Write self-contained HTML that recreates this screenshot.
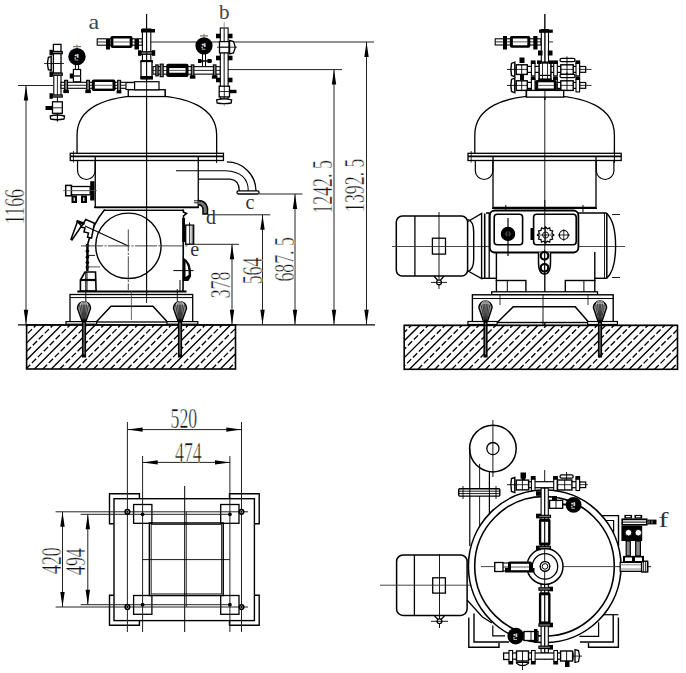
<!DOCTYPE html><html><head><meta charset="utf-8"><style>html,body{margin:0;padding:0;background:#fff;}svg{display:block;}</style></head><body><svg width="686" height="673" viewBox="0 0 686 673" shape-rendering="geometricPrecision"><rect width="686" height="673" fill="#fff"/><clipPath id="clip0"><rect x="26.6" y="325" width="208.9" height="44"/></clipPath>
<g clip-path="url(#clip0)" stroke="#000" stroke-width="1.35"><line x1="-16.3" y1="369" x2="27.7" y2="325"/><line x1="-7.85" y1="369" x2="36.15" y2="325" stroke-dasharray="6 2.4"/><line x1="0.6" y1="369" x2="44.6" y2="325"/><line x1="9.05" y1="369" x2="53.05" y2="325" stroke-dasharray="6 2.4"/><line x1="17.5" y1="369" x2="61.5" y2="325"/><line x1="25.95" y1="369" x2="69.95" y2="325" stroke-dasharray="6 2.4"/><line x1="34.4" y1="369" x2="78.4" y2="325"/><line x1="42.85" y1="369" x2="86.85" y2="325" stroke-dasharray="6 2.4"/><line x1="51.3" y1="369" x2="95.3" y2="325"/><line x1="59.75" y1="369" x2="103.75" y2="325" stroke-dasharray="6 2.4"/><line x1="68.2" y1="369" x2="112.2" y2="325"/><line x1="76.65" y1="369" x2="120.65" y2="325" stroke-dasharray="6 2.4"/><line x1="85.1" y1="369" x2="129.1" y2="325"/><line x1="93.55" y1="369" x2="137.55" y2="325" stroke-dasharray="6 2.4"/><line x1="102" y1="369" x2="146" y2="325"/><line x1="110.45" y1="369" x2="154.45" y2="325" stroke-dasharray="6 2.4"/><line x1="118.9" y1="369" x2="162.9" y2="325"/><line x1="127.35" y1="369" x2="171.35" y2="325" stroke-dasharray="6 2.4"/><line x1="135.8" y1="369" x2="179.8" y2="325"/><line x1="144.25" y1="369" x2="188.25" y2="325" stroke-dasharray="6 2.4"/><line x1="152.7" y1="369" x2="196.7" y2="325"/><line x1="161.15" y1="369" x2="205.15" y2="325" stroke-dasharray="6 2.4"/><line x1="169.6" y1="369" x2="213.6" y2="325"/><line x1="178.05" y1="369" x2="222.05" y2="325" stroke-dasharray="6 2.4"/><line x1="186.5" y1="369" x2="230.5" y2="325"/><line x1="194.95" y1="369" x2="238.95" y2="325" stroke-dasharray="6 2.4"/><line x1="203.4" y1="369" x2="247.4" y2="325"/><line x1="211.85" y1="369" x2="255.85" y2="325" stroke-dasharray="6 2.4"/><line x1="220.3" y1="369" x2="264.3" y2="325"/><line x1="228.75" y1="369" x2="272.75" y2="325" stroke-dasharray="6 2.4"/></g>
<rect x="26.6" y="325" width="208.9" height="44" stroke="#000" stroke-width="1.6" fill="none" />
<clipPath id="clip3"><rect x="404.2" y="325.4" width="273.3" height="43.9"/></clipPath>
<g clip-path="url(#clip3)" stroke="#000" stroke-width="1.35"><line x1="358.8" y1="369.3" x2="402.7" y2="325.4"/><line x1="367.25" y1="369.3" x2="411.15" y2="325.4" stroke-dasharray="6 2.4"/><line x1="375.7" y1="369.3" x2="419.6" y2="325.4"/><line x1="384.15" y1="369.3" x2="428.05" y2="325.4" stroke-dasharray="6 2.4"/><line x1="392.6" y1="369.3" x2="436.5" y2="325.4"/><line x1="401.05" y1="369.3" x2="444.95" y2="325.4" stroke-dasharray="6 2.4"/><line x1="409.5" y1="369.3" x2="453.4" y2="325.4"/><line x1="417.95" y1="369.3" x2="461.85" y2="325.4" stroke-dasharray="6 2.4"/><line x1="426.4" y1="369.3" x2="470.3" y2="325.4"/><line x1="434.85" y1="369.3" x2="478.75" y2="325.4" stroke-dasharray="6 2.4"/><line x1="443.3" y1="369.3" x2="487.2" y2="325.4"/><line x1="451.75" y1="369.3" x2="495.65" y2="325.4" stroke-dasharray="6 2.4"/><line x1="460.2" y1="369.3" x2="504.1" y2="325.4"/><line x1="468.65" y1="369.3" x2="512.55" y2="325.4" stroke-dasharray="6 2.4"/><line x1="477.1" y1="369.3" x2="521" y2="325.4"/><line x1="485.55" y1="369.3" x2="529.45" y2="325.4" stroke-dasharray="6 2.4"/><line x1="494" y1="369.3" x2="537.9" y2="325.4"/><line x1="502.45" y1="369.3" x2="546.35" y2="325.4" stroke-dasharray="6 2.4"/><line x1="510.9" y1="369.3" x2="554.8" y2="325.4"/><line x1="519.35" y1="369.3" x2="563.25" y2="325.4" stroke-dasharray="6 2.4"/><line x1="527.8" y1="369.3" x2="571.7" y2="325.4"/><line x1="536.25" y1="369.3" x2="580.15" y2="325.4" stroke-dasharray="6 2.4"/><line x1="544.7" y1="369.3" x2="588.6" y2="325.4"/><line x1="553.15" y1="369.3" x2="597.05" y2="325.4" stroke-dasharray="6 2.4"/><line x1="561.6" y1="369.3" x2="605.5" y2="325.4"/><line x1="570.05" y1="369.3" x2="613.95" y2="325.4" stroke-dasharray="6 2.4"/><line x1="578.5" y1="369.3" x2="622.4" y2="325.4"/><line x1="586.95" y1="369.3" x2="630.85" y2="325.4" stroke-dasharray="6 2.4"/><line x1="595.4" y1="369.3" x2="639.3" y2="325.4"/><line x1="603.85" y1="369.3" x2="647.75" y2="325.4" stroke-dasharray="6 2.4"/><line x1="612.3" y1="369.3" x2="656.2" y2="325.4"/><line x1="620.75" y1="369.3" x2="664.65" y2="325.4" stroke-dasharray="6 2.4"/><line x1="629.2" y1="369.3" x2="673.1" y2="325.4"/><line x1="637.65" y1="369.3" x2="681.55" y2="325.4" stroke-dasharray="6 2.4"/><line x1="646.1" y1="369.3" x2="690" y2="325.4"/><line x1="654.55" y1="369.3" x2="698.45" y2="325.4" stroke-dasharray="6 2.4"/><line x1="663" y1="369.3" x2="706.9" y2="325.4"/><line x1="671.45" y1="369.3" x2="715.35" y2="325.4" stroke-dasharray="6 2.4"/></g>
<rect x="404.2" y="325.4" width="273.3" height="43.9" stroke="#000" stroke-width="1.6" fill="none" />
<line x1="18" y1="324.8" x2="375" y2="324.8" stroke="#000" stroke-width="1.3" />
<path d="M77.05,153.3 L77.05,135 C77.05,108 105.25,95.6 146.85,95.6 C188.45,95.6 216.65,108 216.65,135 L216.65,153.3" stroke="#000" stroke-width="1.3" fill="none" />
<rect x="70.25" y="153.3" width="153.2" height="7.2" stroke="#000" stroke-width="1.3" fill="#fff" />
<line x1="70.25" y1="156.4" x2="223.45" y2="156.4" stroke="#000" stroke-width="1.6" />
<line x1="73.45" y1="151" x2="73.45" y2="162.5" stroke="#000" stroke-width="0.8" />
<line x1="216.65" y1="151" x2="216.65" y2="163" stroke="#000" stroke-width="1.0" />
<path d="M77.55,160.5 L77.55,170.7 A8.8,8.8 0 0 0 95.15,170.7 L95.15,160.5" stroke="#000" stroke-width="1.2" fill="none" />
<path d="M95.25,156.4 L95.25,207.5 L198.25,207.5 L198.25,156.4" stroke="#000" stroke-width="1.3" fill="none" />
<rect x="128.45" y="89.8" width="36.8" height="6.7" stroke="#000" stroke-width="1.2" fill="#fff" />
<line x1="146.6" y1="14" x2="146.6" y2="302" stroke="#000" stroke-width="0.9" />
<rect x="53.8" y="74" width="7.2" height="22" stroke="#000" stroke-width="1.1" fill="#fff" />
<line x1="57.4" y1="74" x2="57.4" y2="96" stroke="#111" stroke-width="0.9" />
<rect x="53.4" y="44.4" width="7.6" height="7.1" stroke="#000" stroke-width="1.3" fill="#fff" />
<rect x="52.3" y="51.5" width="10" height="2.2" stroke="#000" stroke-width="1.1" fill="#777" />
<rect x="49.5" y="49.8" width="3.3" height="5.6" fill="#000"/>
<rect x="53.4" y="53.7" width="7.6" height="19.5" stroke="#000" stroke-width="1.3" fill="#fff" />
<line x1="53.4" y1="63.5" x2="61" y2="63.5" stroke="#000" stroke-width="0.8" />
<path d="M51.2,56.6 L48.4,57.4 L47.6,62 L47.6,65 L48.4,69.6 L51.2,70.4 Z" stroke="#000" stroke-width="1.4" fill="#fff" />
<line x1="44" y1="63.5" x2="64" y2="63.5" stroke="#000" stroke-width="0.8" />
<rect x="52.3" y="73.1" width="10" height="2.2" stroke="#000" stroke-width="1.1" fill="#777" />
<rect x="49.5" y="71.4" width="3.3" height="5.6" fill="#000"/>
<rect x="52.3" y="94.9" width="10" height="2.2" stroke="#000" stroke-width="1.1" fill="#777" />
<rect x="49.5" y="93.2" width="3.3" height="5.6" fill="#000"/>
<rect x="52.5" y="101.8" width="9.8" height="11.5" stroke="#000" stroke-width="1.3" fill="#fff" />
<line x1="52.5" y1="107.8" x2="62.3" y2="107.8" stroke="#000" stroke-width="0.8" />
<rect x="45.5" y="106" width="7" height="4" fill="#000"/>
<line x1="57.4" y1="97" x2="57.4" y2="102" stroke="#000" stroke-width="1" />
<path d="M50.2,116 Q57.4,114 64.5,116 L64,119 Q57.4,120.5 50.6,119 Z" stroke="#000" stroke-width="1.3" fill="#fff" />
<line x1="57.4" y1="113" x2="57.4" y2="121.5" stroke="#000" stroke-width="1.1" />
<circle cx="77" cy="56.6" r="8.7" stroke="#000" stroke-width="0" fill="#000" />
<rect x="74.8" y="54.6" width="2" height="1.6" fill="#eee"/>
<rect x="76.8" y="54" width="1.8" height="3.8" fill="#ccc"/>
<rect x="74.4" y="57.4" width="1.6" height="1.8" fill="#9ad"/>
<rect x="74.8" y="59.6" width="3.6" height="0.8" fill="#ddd"/>
<line x1="73" y1="46.6" x2="81" y2="46.6" stroke="#8a6a50" stroke-width="1.2" />
<line x1="77" y1="44.4" x2="77" y2="47.9" stroke="#777" stroke-width="1" />
<line x1="75.4" y1="65" x2="75.4" y2="70" stroke="#000" stroke-width="1" />
<line x1="78.6" y1="65" x2="78.6" y2="70" stroke="#000" stroke-width="1" />
<rect x="73.4" y="69.5" width="7.2" height="12.3" stroke="#000" stroke-width="1.2" fill="#fff" />
<rect x="69.8" y="73.5" width="3.6" height="5" fill="#000"/>
<line x1="73.4" y1="76" x2="80.6" y2="76" stroke="#333" stroke-width="1.6" />
<rect x="61" y="82.3" width="73.6" height="6" stroke="#000" stroke-width="1.1" fill="#fff" />
<line x1="61" y1="85.3" x2="134.6" y2="85.3" stroke="#111" stroke-width="0.9" />
<rect x="64.65" y="80.3" width="2.9" height="10" stroke="#000" stroke-width="1.1" fill="#777" />
<rect x="63.3" y="89.8" width="5.6" height="3.3" fill="#000"/>
<rect x="86.65" y="80.3" width="2.9" height="10" stroke="#000" stroke-width="1.1" fill="#777" />
<rect x="85.3" y="89.8" width="5.6" height="3.3" fill="#000"/>
<rect x="91.8" y="79.6" width="23.7" height="11.4" rx="1.8" fill="#000"/>
<rect x="94.8" y="82" width="17.7" height="6.6" fill="#fff"/>
<line x1="94.8" y1="85.3" x2="112.5" y2="85.3" stroke="#333" stroke-width="0.8" />
<rect x="117.6" y="80.3" width="3" height="10.5" stroke="#000" stroke-width="1" fill="#888" />
<rect x="116.6" y="90.5" width="4.8" height="2.9" fill="#000"/>
<rect x="126" y="82.6" width="8.6" height="6.9" stroke="#000" stroke-width="1.1" fill="#fff" />
<rect x="142.4" y="29" width="8.4" height="33" stroke="#000" stroke-width="1.1" fill="#fff" />
<line x1="146.6" y1="29" x2="146.6" y2="62" stroke="#111" stroke-width="0.9" />
<rect x="141" y="29" width="14" height="3.5" fill="#000"/>
<rect x="140.8" y="51.7" width="11.6" height="2.6" stroke="#000" stroke-width="1.1" fill="#777" />
<rect x="138" y="50.2" width="3.3" height="5.6" fill="#000"/>
<rect x="151.9" y="50.2" width="3.3" height="5.6" fill="#000"/>
<rect x="140.5" y="60" width="12.3" height="3" fill="#000"/>
<rect x="141" y="61.5" width="11" height="17" stroke="#000" stroke-width="1.3" fill="#fff" />
<rect x="140.5" y="76" width="12.5" height="3.5" fill="#000"/>
<line x1="146.6" y1="61" x2="146.6" y2="80" stroke="#000" stroke-width="0.9" />
<rect x="97.2" y="38.8" width="45" height="6.4" stroke="#000" stroke-width="1.1" fill="#fff" />
<line x1="97.2" y1="42" x2="142.2" y2="42" stroke="#111" stroke-width="0.9" />
<rect x="110.4" y="36.1" width="22.2" height="11.8" rx="1.8" fill="#000"/>
<rect x="113.4" y="38.5" width="16.2" height="7" fill="#fff"/>
<line x1="113.4" y1="42" x2="129.6" y2="42" stroke="#333" stroke-width="0.8" />
<rect x="106" y="39" width="4" height="10.5" fill="#000"/>
<rect x="134.5" y="39" width="4.5" height="10.5" fill="#000"/>
<line x1="151" y1="42" x2="374" y2="42" stroke="#222" stroke-width="1.0" />
<rect x="153" y="66.65" width="67.3" height="7.5" stroke="#000" stroke-width="1.1" fill="#fff" />
<line x1="153" y1="70.4" x2="220.3" y2="70.4" stroke="#111" stroke-width="0.9" />
<rect x="166.3" y="63.7" width="22.2" height="13.4" rx="1.8" fill="#000"/>
<rect x="169.3" y="68.05" width="16.2" height="4.7" fill="#fff"/>
<line x1="169.3" y1="70.4" x2="185.5" y2="70.4" stroke="#333" stroke-width="0.8" />
<rect x="155.8" y="64.9" width="2.4" height="11" stroke="#000" stroke-width="1.1" fill="#777" />
<rect x="160.2" y="64.1" width="3" height="12.6" stroke="#000" stroke-width="1.1" fill="#777" />
<rect x="191.3" y="64.9" width="2.6" height="11" stroke="#000" stroke-width="1.1" fill="#777" />
<rect x="189.8" y="75.4" width="5.6" height="3.3" fill="#000"/>
<rect x="213.4" y="64.9" width="2.6" height="11" stroke="#000" stroke-width="1.1" fill="#777" />
<rect x="211.9" y="75.4" width="5.6" height="3.3" fill="#000"/>
<line x1="228" y1="69.6" x2="342" y2="69.6" stroke="#222" stroke-width="1.0" />
<circle cx="204" cy="45.8" r="8.6" stroke="#000" stroke-width="0" fill="#000" />
<rect x="201.8" y="43.8" width="2" height="1.6" fill="#eee"/>
<rect x="203.8" y="43.2" width="1.8" height="3.8" fill="#ccc"/>
<rect x="201.4" y="46.6" width="1.6" height="1.8" fill="#9ad"/>
<rect x="201.8" y="48.8" width="3.6" height="0.8" fill="#ddd"/>
<line x1="200" y1="35.9" x2="208" y2="35.9" stroke="#8a6a50" stroke-width="1.2" />
<line x1="204" y1="33.7" x2="204" y2="37.2" stroke="#777" stroke-width="1" />
<line x1="202.5" y1="54" x2="202.5" y2="66" stroke="#000" stroke-width="1" />
<line x1="205.5" y1="54" x2="205.5" y2="66" stroke="#000" stroke-width="1" />
<rect x="198" y="59" width="3.5" height="4" fill="#000"/>
<rect x="207.5" y="59" width="4" height="4" fill="#000"/>
<line x1="198" y1="61" x2="212" y2="61" stroke="#000" stroke-width="1.5" />
<rect x="220.3" y="28" width="7.8" height="71" stroke="#000" stroke-width="1.1" fill="#fff" />
<line x1="224.2" y1="28" x2="224.2" y2="99" stroke="#111" stroke-width="0.9" />
<line x1="224.2" y1="22" x2="224.2" y2="106" stroke="#555" stroke-width="0.6" />
<rect x="219.5" y="41.6" width="9.5" height="11.3" stroke="#000" stroke-width="1.3" fill="#fff" />
<line x1="219.5" y1="47.2" x2="229" y2="47.2" stroke="#000" stroke-width="0.8" />
<path d="M229.6,40.5 L233.5,41.5 L235,46 L235,48.5 L233.5,53 L229.6,54 Z" stroke="#000" stroke-width="1.3" fill="#fff" />
<line x1="217" y1="47.2" x2="237" y2="47.2" stroke="#000" stroke-width="0.8" />
<rect x="216" y="33.7" width="4.5" height="4.6" fill="#000"/>
<rect x="228" y="33.7" width="4.5" height="4.6" fill="#000"/>
<rect x="216" y="55.7" width="4.5" height="4.6" fill="#000"/>
<rect x="228" y="55.7" width="4.5" height="4.6" fill="#000"/>
<rect x="216" y="77.7" width="4.5" height="4.6" fill="#000"/>
<rect x="228" y="77.7" width="4.5" height="4.6" fill="#000"/>
<rect x="219.2" y="86.2" width="10.3" height="10.7" stroke="#000" stroke-width="1.3" fill="#fff" />
<line x1="219.2" y1="91.5" x2="229.5" y2="91.5" stroke="#000" stroke-width="0.8" />
<line x1="224.3" y1="86" x2="224.3" y2="97" stroke="#000" stroke-width="0.8" />
<rect x="229.5" y="89.8" width="7" height="3.4" fill="#000"/>
<path d="M216.7,99.8 Q224.2,98 231.6,99.8 L231.2,103 Q224.2,104.4 217.1,103 Z" stroke="#000" stroke-width="1.3" fill="#fff" />
<text transform="translate(88.5,29) scale(1.12,1)" font-family="Liberation Serif" font-size="21.5" fill="#444" text-anchor="start">a</text>
<text transform="translate(219,18.6)" font-family="Liberation Serif" font-size="21" fill="#444" text-anchor="start">b</text>
<rect x="128.3" y="89.8" width="36.7" height="6.7" stroke="#000" stroke-width="1.2" fill="#fff" />
<rect x="134.6" y="81.7" width="24.4" height="8.1" stroke="#000" stroke-width="1.2" fill="#fff" />
<line x1="146.6" y1="14" x2="146.6" y2="100" stroke="#000" stroke-width="0.9" />
<path d="M198.3,179.1 L230.4,179.1 Q239.3,180 239.3,191" stroke="#000" stroke-width="1.3" fill="none" />
<path d="M176,170.8 L225.7,170.8 Q248.3,172 248.3,191" stroke="#000" stroke-width="1.1" fill="none" />
<path d="M226.9,161.9 A29.1,29.1 0 0 1 256,191" stroke="#000" stroke-width="1.3" fill="none" />
<rect x="237" y="190.8" width="22" height="3.2" stroke="#000" stroke-width="1.3" fill="#fff" rx="1.5" />
<line x1="259" y1="194" x2="302.5" y2="194" stroke="#222" stroke-width="1" />
<text transform="translate(245.4,208.6)" font-family="Liberation Serif" font-size="20" fill="#333" text-anchor="start">c</text>
<path d="M198.3,200.5 Q206,200.5 207.5,208 L207.5,214 L203,214 L203,209 Q202.5,204.8 198.3,204.8" stroke="#000" stroke-width="1.5" fill="#777" />
<line x1="199.5" y1="202.6" x2="205" y2="208.5" stroke="#666" stroke-width="0.7" />
<line x1="194" y1="200.8" x2="198.3" y2="200.8" stroke="#000" stroke-width="0.9" />
<line x1="194" y1="202.8" x2="198.3" y2="202.8" stroke="#000" stroke-width="0.9" />
<line x1="207.5" y1="214.8" x2="270.3" y2="214.8" stroke="#222" stroke-width="1" />
<text transform="translate(206,224)" font-family="Liberation Serif" font-size="20" fill="#333" text-anchor="start">d</text>
<rect x="104" y="207.5" width="79.5" height="3" fill="#ccc"/>
<line x1="94" y1="207.3" x2="198.3" y2="207.3" stroke="#000" stroke-width="1.4" />
<line x1="104" y1="210.4" x2="183.5" y2="210.4" stroke="#000" stroke-width="1.3" />
<rect x="65.7" y="185.4" width="5.8" height="10.4" stroke="#000" stroke-width="1.5" fill="#fff" />
<rect x="71.5" y="186.5" width="18.7" height="8.3" stroke="#000" stroke-width="1.3" fill="#fff" />
<line x1="71.5" y1="190.6" x2="90.2" y2="190.6" stroke="#555" stroke-width="0.8" />
<rect x="90.2" y="181.2" width="4.3" height="19.3" fill="#000"/>
<rect x="71.5" y="195.5" width="5.5" height="7.5" fill="#000"/>
<rect x="81" y="195.5" width="6" height="7.5" fill="#000"/>
<rect x="73.6" y="197.5" width="1.2" height="3.5" fill="#fff"/><rect x="83.2" y="197.5" width="1.2" height="3.5" fill="#fff"/>
<line x1="63" y1="190.6" x2="97" y2="190.6" stroke="#555" stroke-width="0.7" />
<path d="M104.7,209.6 Q92,225 87.6,244.7 L87.3,271" stroke="#000" stroke-width="1.6" fill="none" />
<line x1="87.4" y1="244" x2="87.4" y2="271" stroke="#000" stroke-width="2.2" />
<ellipse cx="87.4" cy="245.5" rx="1.9" ry="1.5" fill="#000"/>
<ellipse cx="87.4" cy="251" rx="1.9" ry="1.5" fill="#000"/>
<ellipse cx="87.4" cy="257" rx="1.9" ry="1.5" fill="#000"/>
<ellipse cx="87.4" cy="262.5" rx="1.9" ry="1.5" fill="#000"/>
<ellipse cx="87.4" cy="267" rx="1.9" ry="1.5" fill="#000"/>
<path d="M77.5,221.5 L71,239.3 L72,240 L81.5,226 Z" stroke="#000" stroke-width="1.5" fill="#fff" />
<path d="M85.8,219.5 L94.5,223.2 L91.5,238 L87.5,237.2 L88.5,233 L84,232 L85,228 L81,227 Z" stroke="#000" stroke-width="1.5" fill="#fff" />
<line x1="76.5" y1="221" x2="84.5" y2="224" stroke="#000" stroke-width="2.5" />
<line x1="85" y1="226" x2="128.3" y2="246" stroke="#000" stroke-width="1.1" />
<circle cx="128.4" cy="245.8" r="32.7" stroke="#000" stroke-width="1.4" fill="none" />
<line x1="81" y1="245.9" x2="188" y2="245.9" stroke="#444" stroke-width="1.0" stroke-dasharray="22 1.5 2 1.5"/>
<line x1="128.3" y1="229.4" x2="128.3" y2="290" stroke="#333" stroke-width="0.9" stroke-dasharray="22 1.5 2 1.5"/>
<line x1="87" y1="255.4" x2="95" y2="255.4" stroke="#000" stroke-width="0.9" />
<line x1="87" y1="266.9" x2="100" y2="266.9" stroke="#444" stroke-width="0.9" />
<path d="M80.4,280 L85,272 L95.5,272 L96.1,291 L80.4,291 Z" stroke="#000" stroke-width="1.6" fill="#fff" />
<line x1="80.4" y1="280" x2="96.1" y2="280" stroke="#000" stroke-width="2.2" />
<line x1="87" y1="272" x2="87" y2="291" stroke="#000" stroke-width="0.9" />
<path d="M183.3,209.6 L183.3,212 L186.5,213.5 L183.5,216 L183,291" stroke="#000" stroke-width="1.6" fill="none" />
<rect x="185.7" y="225.1" width="8" height="19.2" stroke="#000" stroke-width="1.3" fill="#fff" />
<line x1="189.7" y1="225.1" x2="189.7" y2="244.3" stroke="#000" stroke-width="0.9" />
<line x1="192.2" y1="226" x2="192.2" y2="244.3" stroke="#000" stroke-width="0.8" />
<line x1="189.5" y1="222.5" x2="189.5" y2="225.1" stroke="#000" stroke-width="1" />
<rect x="182.2" y="218" width="2.8" height="24" fill="#000"/>
<line x1="186" y1="244.3" x2="239" y2="244.3" stroke="#222" stroke-width="1" />
<text transform="translate(190.2,255.8)" font-family="Liberation Serif" font-size="20" fill="#333" text-anchor="start">e</text>
<path d="M183.5,258.7 Q191,262 190.5,276 L188,280.3 L183.5,280.3 Z" stroke="#000" stroke-width="1.3" fill="#000" />
<path d="M185.5,262 Q189,266 188.6,275 L185.5,277 Z" fill="#fff"/>
<line x1="173.4" y1="270.6" x2="193.5" y2="270.6" stroke="#000" stroke-width="1" />
<line x1="77.3" y1="291.4" x2="186.5" y2="291.4" stroke="#000" stroke-width="2.0" />
<rect x="70" y="294.5" width="122.7" height="27.5" stroke="#000" stroke-width="1.3" fill="#fff" />
<line x1="70" y1="297.6" x2="192.7" y2="297.6" stroke="#000" stroke-width="1.0" />
<rect x="66" y="321.6" width="30.7" height="2.6" stroke="#000" stroke-width="1.2" fill="#fff" />
<rect x="167" y="321.6" width="30.8" height="2.6" stroke="#000" stroke-width="1.2" fill="#fff" />
<path d="M96.7,321.6 L111,306.3 L152.9,306.3 L167,321.6" stroke="#000" stroke-width="1.5" fill="none" />
<line x1="131.4" y1="291" x2="131.4" y2="320" stroke="#444" stroke-width="0.8" />
<line x1="146.6" y1="100" x2="146.6" y2="303" stroke="#000" stroke-width="0.9" />
<line x1="180" y1="280" x2="180" y2="292" stroke="#000" stroke-width="1" />
<line x1="85.8" y1="272" x2="85.8" y2="302" stroke="#000" stroke-width="1.0" />
<line x1="177.3" y1="289" x2="177.3" y2="302" stroke="#000" stroke-width="0.9" />
<path d="M77.4,308.2 A6.6,6.6 0 0 1 90.6,308.2 L86.2,320.5 L81.8,320.5 Z" stroke="#000" stroke-width="1.4" fill="#999" />
<line x1="79.5" y1="304.6" x2="82.65" y2="320.5" stroke="#111" stroke-width="0.7" />
<line x1="81.5" y1="304.6" x2="83.25" y2="320.5" stroke="#111" stroke-width="0.7" />
<line x1="83.2" y1="304.6" x2="83.76" y2="320.5" stroke="#111" stroke-width="0.7" />
<line x1="84.8" y1="304.6" x2="84.24" y2="320.5" stroke="#111" stroke-width="0.7" />
<line x1="86.5" y1="304.6" x2="84.75" y2="320.5" stroke="#111" stroke-width="0.7" />
<line x1="88.5" y1="304.6" x2="85.35" y2="320.5" stroke="#111" stroke-width="0.7" />
<path d="M80,305.6 A4,4 0 0 1 88,305.6" stroke="#ccc" stroke-width="0.8" fill="none" />
<rect x="81.9" y="319.5" width="4.2" height="38" fill="#000"/>
<rect x="83.4" y="322.5" width="1.2" height="32" fill="#777"/>
<path d="M173.4,308.2 A6.6,6.6 0 0 1 186.6,308.2 L182.2,320.5 L177.8,320.5 Z" stroke="#000" stroke-width="1.4" fill="#999" />
<line x1="175.5" y1="304.6" x2="178.65" y2="320.5" stroke="#111" stroke-width="0.7" />
<line x1="177.5" y1="304.6" x2="179.25" y2="320.5" stroke="#111" stroke-width="0.7" />
<line x1="179.2" y1="304.6" x2="179.76" y2="320.5" stroke="#111" stroke-width="0.7" />
<line x1="180.8" y1="304.6" x2="180.24" y2="320.5" stroke="#111" stroke-width="0.7" />
<line x1="182.5" y1="304.6" x2="180.75" y2="320.5" stroke="#111" stroke-width="0.7" />
<line x1="184.5" y1="304.6" x2="181.35" y2="320.5" stroke="#111" stroke-width="0.7" />
<path d="M176,305.6 A4,4 0 0 1 184,305.6" stroke="#ccc" stroke-width="0.8" fill="none" />
<rect x="177.9" y="319.5" width="4.2" height="38" fill="#000"/>
<rect x="179.4" y="322.5" width="1.2" height="32" fill="#777"/>
<line x1="18" y1="85.5" x2="53" y2="85.5" stroke="#222" stroke-width="1" />
<line x1="26" y1="85.5" x2="26" y2="324.8" stroke="#222" stroke-width="1.0" />
<polygon points="26,85.5 23.8,100.5 28.2,100.5" fill="#000"/>
<polygon points="26,324.8 23.8,309.8 28.2,309.8" fill="#000"/>
<text transform="translate(24,224) rotate(-90) scale(0.6,1)" font-family="Liberation Serif" font-size="29.7" fill="#111" stroke="#fff" stroke-width="0.55" text-anchor="start">1166</text>
<line x1="334" y1="69.6" x2="334" y2="324.8" stroke="#222" stroke-width="1.0" />
<polygon points="334,69.6 331.8,84.6 336.2,84.6" fill="#000"/>
<polygon points="334,324.8 331.8,309.8 336.2,309.8" fill="#000"/>
<text transform="translate(331.8,213.6) rotate(-90) scale(0.6,1)" font-family="Liberation Serif" font-size="29.7" fill="#111" stroke="#fff" stroke-width="0.55" text-anchor="start">1242. 5</text>
<line x1="366.5" y1="42" x2="366.5" y2="324.8" stroke="#222" stroke-width="1.0" />
<polygon points="366.5,42 364.3,57 368.7,57" fill="#000"/>
<polygon points="366.5,324.8 364.3,309.8 368.7,309.8" fill="#000"/>
<text transform="translate(364,212) rotate(-90) scale(0.6,1)" font-family="Liberation Serif" font-size="29.7" fill="#111" stroke="#fff" stroke-width="0.55" text-anchor="start">1392. 5</text>
<line x1="295" y1="194" x2="295" y2="324.8" stroke="#222" stroke-width="1.0" />
<polygon points="295,194 292.8,209 297.2,209" fill="#000"/>
<polygon points="295,324.8 292.8,309.8 297.2,309.8" fill="#000"/>
<text transform="translate(293.7,281.6) rotate(-90) scale(0.6,1)" font-family="Liberation Serif" font-size="29.7" fill="#111" stroke="#fff" stroke-width="0.55" text-anchor="start">687. 5</text>
<line x1="262.5" y1="214.8" x2="262.5" y2="324.8" stroke="#222" stroke-width="1.0" />
<polygon points="262.5,214.8 260.3,229.8 264.7,229.8" fill="#000"/>
<polygon points="262.5,324.8 260.3,309.8 264.7,309.8" fill="#000"/>
<text transform="translate(262.3,284.3) rotate(-90) scale(0.6,1)" font-family="Liberation Serif" font-size="29.7" fill="#111" stroke="#fff" stroke-width="0.55" text-anchor="start">564</text>
<line x1="232" y1="244.3" x2="232" y2="324.8" stroke="#222" stroke-width="1.0" />
<polygon points="232,244.3 229.8,259.3 234.2,259.3" fill="#000"/>
<polygon points="232,324.8 229.8,309.8 234.2,309.8" fill="#000"/>
<text transform="translate(229.9,298.3) rotate(-90) scale(0.6,1)" font-family="Liberation Serif" font-size="29.7" fill="#111" stroke="#fff" stroke-width="0.55" text-anchor="start">378</text>
<path d="M474.8,153.3 L474.8,135 C474.8,108 503,95.6 544.6,95.6 C586.2,95.6 614.4,108 614.4,135 L614.4,153.3" stroke="#000" stroke-width="1.3" fill="none" />
<rect x="468" y="153.3" width="153.2" height="7.2" stroke="#000" stroke-width="1.3" fill="#fff" />
<line x1="468" y1="156.4" x2="621.2" y2="156.4" stroke="#000" stroke-width="1.6" />
<line x1="471.2" y1="151" x2="471.2" y2="162.5" stroke="#000" stroke-width="0.8" />
<line x1="614.4" y1="151" x2="614.4" y2="163" stroke="#000" stroke-width="1.0" />
<path d="M475.3,160.5 L475.3,170.7 A8.8,8.8 0 0 0 492.9,170.7 L492.9,160.5" stroke="#000" stroke-width="1.2" fill="none" />
<path d="M596.3,160.5 L596.3,170.7 A8.8,8.8 0 0 0 613.9,170.7 L613.9,160.5" stroke="#000" stroke-width="1.2" fill="none" />
<path d="M493,156.4 L493,207.5 L596,207.5 L596,156.4" stroke="#000" stroke-width="1.3" fill="none" />
<rect x="526.2" y="89.8" width="36.8" height="6.7" stroke="#000" stroke-width="1.2" fill="#fff" />
<line x1="544.8" y1="14" x2="544.8" y2="325" stroke="#000" stroke-width="0.9" />
<line x1="492" y1="208.2" x2="597" y2="208.2" stroke="#000" stroke-width="1.5" />
<rect x="396.3" y="216.1" width="71.3" height="59.9" stroke="#000" stroke-width="1.5" fill="#fff" rx="6" />
<line x1="414.9" y1="216.1" x2="414.9" y2="276" stroke="#000" stroke-width="1.3" />
<line x1="439" y1="212" x2="439" y2="289" stroke="#000" stroke-width="0.9" />
<rect x="432.4" y="238.2" width="13.1" height="15.9" stroke="#000" stroke-width="1.3" fill="none" />
<line x1="392" y1="246.5" x2="625" y2="246.5" stroke="#333" stroke-width="0.9" />
<path d="M467.6,219.4 Q473.7,221 473.7,232 L473.7,259 Q473.7,270 467.6,271.4" stroke="#000" stroke-width="1.4" fill="none" />
<path d="M468,221.5 L481.6,213.5 L481.6,278.5 L468,271" stroke="#000" stroke-width="1.4" fill="none" />
<line x1="484.7" y1="213.5" x2="484.7" y2="278.5" stroke="#000" stroke-width="1.6" />
<path d="M434,276 L439,282 L444,276" stroke="#000" stroke-width="1.2" fill="none" />
<circle cx="439" cy="282.4" r="2.4" stroke="#000" stroke-width="1.2" fill="#fff" />
<line x1="431" y1="282.4" x2="447" y2="282.4" stroke="#000" stroke-width="0.9" />
<line x1="486" y1="213.1" x2="606.8" y2="213.1" stroke="#000" stroke-width="1.5" />
<line x1="489.2" y1="213.1" x2="489.2" y2="278.3" stroke="#000" stroke-width="1.3" />
<line x1="482" y1="278.3" x2="496.4" y2="278.3" stroke="#000" stroke-width="1.4" />
<line x1="496.4" y1="252" x2="496.4" y2="281.2" stroke="#000" stroke-width="1.4" />
<line x1="594.8" y1="252" x2="594.8" y2="281.2" stroke="#000" stroke-width="1.4" />
<line x1="594.8" y1="278.3" x2="606.8" y2="278.3" stroke="#000" stroke-width="1.4" />
<line x1="606.8" y1="213.1" x2="606.8" y2="278.3" stroke="#000" stroke-width="1.5" />
<line x1="583" y1="205" x2="583" y2="212" stroke="#000" stroke-width="1" />
<line x1="505.8" y1="205" x2="505.8" y2="212" stroke="#000" stroke-width="1" />
<path d="M606.8,213.5 Q615.6,222 615.6,246 Q615.6,270 606.8,278.3" stroke="#000" stroke-width="1.4" fill="none" />
<line x1="612" y1="214.5" x2="620" y2="214.5" stroke="#000" stroke-width="0.9" />
<line x1="612" y1="277.5" x2="620" y2="277.5" stroke="#000" stroke-width="0.9" />
<line x1="604.5" y1="213.1" x2="604.5" y2="278.3" stroke="#000" stroke-width="0.9" />
<rect x="489.8" y="210.5" width="88.6" height="42" stroke="#000" stroke-width="1.8" fill="#fff" rx="5" />
<rect x="494.2" y="214.2" width="28.4" height="30.6" stroke="#000" stroke-width="1.6" fill="#fff" rx="3" />
<rect x="533.6" y="214.2" width="42.6" height="30.6" stroke="#000" stroke-width="1.6" fill="#fff" rx="3" />
<circle cx="508" cy="233.9" r="6.6" stroke="#000" stroke-width="1.2" fill="#000" />
<circle cx="508" cy="233.9" r="2.4" stroke="#555" stroke-width="0.8" fill="#333" />
<line x1="508" y1="218" x2="508" y2="256" stroke="#000" stroke-width="1.2" />
<polygon points="553.8,235 551.88,236.68 552.7,239.1 550.2,239.6 549.7,242.1 547.28,241.28 545.6,243.2 543.92,241.28 541.5,242.1 541,239.6 538.5,239.1 539.32,236.68 537.4,235 539.32,233.32 538.5,230.9 541,230.4 541.5,227.9 543.92,228.72 545.6,226.8 547.28,228.72 549.7,227.9 550.2,230.4 552.7,230.9 551.88,233.32" stroke="#000" stroke-width="1.2" fill="#fff"/>
<circle cx="545.6" cy="235" r="3" stroke="#000" stroke-width="0.9" fill="none" />
<line x1="537" y1="235" x2="554" y2="235" stroke="#000" stroke-width="0.8" />
<line x1="545.6" y1="227" x2="545.6" y2="243" stroke="#000" stroke-width="0.8" />
<circle cx="563.8" cy="235" r="4.5" stroke="#000" stroke-width="1.2" fill="none" />
<line x1="558" y1="235" x2="570" y2="235" stroke="#000" stroke-width="0.8" />
<line x1="563.8" y1="229" x2="563.8" y2="241" stroke="#000" stroke-width="0.8" />
<rect x="530.5" y="228" width="3.1" height="12" fill="#000"/>
<path d="M538.5,252.5 L538.5,262 Q538.5,274 544.5,274 Q550.5,274 550.5,262 L550.5,252.5" stroke="#000" stroke-width="1.5" fill="#fff" />
<circle cx="544.5" cy="255.8" r="3.8" stroke="#000" stroke-width="2.2" fill="#fff" />
<circle cx="544.5" cy="267.8" r="3.8" stroke="#000" stroke-width="2.2" fill="#fff" />
<line x1="544.5" y1="250" x2="544.5" y2="275" stroke="#000" stroke-width="0.8" />
<line x1="544.8" y1="200" x2="544.8" y2="325" stroke="#000" stroke-width="0.9" />
<rect x="496.4" y="280.5" width="29.5" height="12" stroke="#000" stroke-width="1.4" fill="#fff" />
<line x1="507.3" y1="280.5" x2="507.3" y2="292.5" stroke="#000" stroke-width="1" />
<rect x="565.3" y="280.5" width="29.5" height="12" stroke="#000" stroke-width="1.4" fill="#fff" />
<line x1="583.9" y1="280.5" x2="583.9" y2="292.5" stroke="#000" stroke-width="1" />
<rect x="491.7" y="291.8" width="105.8" height="3" stroke="#000" stroke-width="1.3" fill="#fff" />
<rect x="472.4" y="294.8" width="140.8" height="27.7" stroke="#000" stroke-width="1.4" fill="#fff" />
<line x1="472.4" y1="298.5" x2="613.2" y2="298.5" stroke="#000" stroke-width="1.0" />
<path d="M497.2,322.5 L513.3,306.7 L575.2,306.7 L588.9,322.5" stroke="#000" stroke-width="1.5" fill="none" />
<rect x="467.9" y="321.5" width="29.3" height="3" stroke="#000" stroke-width="1.2" fill="#fff" />
<rect x="587.6" y="321.5" width="29.8" height="3" stroke="#000" stroke-width="1.2" fill="#fff" />
<line x1="500" y1="295" x2="500" y2="305" stroke="#000" stroke-width="0.8" />
<line x1="588" y1="295" x2="588" y2="305" stroke="#000" stroke-width="0.8" />
<line x1="543" y1="295" x2="543" y2="325" stroke="#000" stroke-width="0.9" />
<path d="M478.9,307.6 A6.6,6.6 0 0 1 492.1,307.6 L487.7,320.8 L483.3,320.8 Z" stroke="#000" stroke-width="1.4" fill="#999" />
<line x1="481" y1="304" x2="484.15" y2="320.8" stroke="#111" stroke-width="0.7" />
<line x1="483" y1="304" x2="484.75" y2="320.8" stroke="#111" stroke-width="0.7" />
<line x1="484.7" y1="304" x2="485.26" y2="320.8" stroke="#111" stroke-width="0.7" />
<line x1="486.3" y1="304" x2="485.74" y2="320.8" stroke="#111" stroke-width="0.7" />
<line x1="488" y1="304" x2="486.25" y2="320.8" stroke="#111" stroke-width="0.7" />
<line x1="490" y1="304" x2="486.85" y2="320.8" stroke="#111" stroke-width="0.7" />
<path d="M481.5,305 A4,4 0 0 1 489.5,305" stroke="#ccc" stroke-width="0.8" fill="none" />
<rect x="483.4" y="319.8" width="4.2" height="37.7" fill="#000"/>
<rect x="484.9" y="322.8" width="1.2" height="31.7" fill="#777"/>
<path d="M593.4,307.6 A6.6,6.6 0 0 1 606.6,307.6 L602.2,320.8 L597.8,320.8 Z" stroke="#000" stroke-width="1.4" fill="#999" />
<line x1="595.5" y1="304" x2="598.65" y2="320.8" stroke="#111" stroke-width="0.7" />
<line x1="597.5" y1="304" x2="599.25" y2="320.8" stroke="#111" stroke-width="0.7" />
<line x1="599.2" y1="304" x2="599.76" y2="320.8" stroke="#111" stroke-width="0.7" />
<line x1="600.8" y1="304" x2="600.24" y2="320.8" stroke="#111" stroke-width="0.7" />
<line x1="602.5" y1="304" x2="600.75" y2="320.8" stroke="#111" stroke-width="0.7" />
<line x1="604.5" y1="304" x2="601.35" y2="320.8" stroke="#111" stroke-width="0.7" />
<path d="M596,305 A4,4 0 0 1 604,305" stroke="#ccc" stroke-width="0.8" fill="none" />
<rect x="597.9" y="319.8" width="4.2" height="37.7" fill="#000"/>
<rect x="599.4" y="322.8" width="1.2" height="31.7" fill="#777"/>
<line x1="404" y1="325.4" x2="677.5" y2="325.4" stroke="#000" stroke-width="1.4" />
<path d="M139.4,498.7 L139.4,493.8 L109.5,493.8 L109.5,523.7 L114,523.7" stroke="#000" stroke-width="1.4" fill="none" />
<path d="M229.5,498.7 L229.5,493.8 L259.2,493.8 L259.2,523.7 L254.4,523.7" stroke="#000" stroke-width="1.4" fill="none" />
<path d="M139.4,620.6 L139.4,625.2 L109.5,625.2 L109.5,595.3 L114,595.3" stroke="#000" stroke-width="1.4" fill="none" />
<path d="M229.5,620.6 L229.5,625.2 L259.2,625.2 L259.2,595.3 L254.4,595.3" stroke="#000" stroke-width="1.4" fill="none" />
<rect x="114" y="498.7" width="140.4" height="121.9" stroke="#000" stroke-width="1.4" fill="none" />
<rect x="133.6" y="504.5" width="18.3" height="18.8" stroke="#000" stroke-width="1.3" fill="#fff" />
<rect x="220.7" y="504.5" width="18.3" height="18.8" stroke="#000" stroke-width="1.3" fill="#fff" />
<rect x="133.6" y="595.5" width="18.3" height="18.8" stroke="#000" stroke-width="1.3" fill="#fff" />
<rect x="220.7" y="595.5" width="18.3" height="18.8" stroke="#000" stroke-width="1.3" fill="#fff" />
<rect x="149.4" y="523" width="73.8" height="72.5" stroke="#000" stroke-width="1.5" fill="none" />
<rect x="151.2" y="524.6" width="70.2" height="69.3" stroke="#000" stroke-width="0.8" fill="none" />
<line x1="184.7" y1="486" x2="184.7" y2="632" stroke="#000" stroke-width="1.0" />
<line x1="186.3" y1="512" x2="186.3" y2="607" stroke="#000" stroke-width="0.8" />
<line x1="142.6" y1="559.6" x2="229.9" y2="559.6" stroke="#000" stroke-width="0.9" />
<line x1="127.4" y1="422" x2="127.4" y2="632" stroke="#222" stroke-width="1.0" />
<line x1="241.5" y1="422" x2="241.5" y2="632" stroke="#222" stroke-width="1.0" />
<line x1="142.6" y1="456" x2="142.6" y2="632" stroke="#222" stroke-width="1.0" />
<line x1="229.9" y1="456" x2="229.9" y2="632" stroke="#222" stroke-width="1.0" />
<line x1="55.6" y1="511.8" x2="248" y2="511.8" stroke="#222" stroke-width="1.0" />
<line x1="80.6" y1="514.3" x2="230" y2="514.3" stroke="#222" stroke-width="1.0" />
<line x1="55.6" y1="607" x2="248" y2="607" stroke="#222" stroke-width="1.0" />
<line x1="80.6" y1="604.7" x2="230" y2="604.7" stroke="#222" stroke-width="1.0" />
<circle cx="127.4" cy="511.8" r="2.3" stroke="#000" stroke-width="1.6" fill="#fff" />
<rect x="126.4" y="510.8" width="2" height="2" fill="#000"/>
<circle cx="241.5" cy="511.8" r="2.3" stroke="#000" stroke-width="1.6" fill="#fff" />
<rect x="240.5" y="510.8" width="2" height="2" fill="#000"/>
<circle cx="127.4" cy="607" r="2.3" stroke="#000" stroke-width="1.6" fill="#fff" />
<rect x="126.4" y="606" width="2" height="2" fill="#000"/>
<circle cx="241.5" cy="607" r="2.3" stroke="#000" stroke-width="1.6" fill="#fff" />
<rect x="240.5" y="606" width="2" height="2" fill="#000"/>
<circle cx="142.6" cy="514.3" r="1.9" stroke="#000" stroke-width="0" fill="#000" />
<circle cx="229.9" cy="514.3" r="1.9" stroke="#000" stroke-width="0" fill="#000" />
<circle cx="142.6" cy="604.7" r="1.9" stroke="#000" stroke-width="0" fill="#000" />
<circle cx="229.9" cy="604.7" r="1.9" stroke="#000" stroke-width="0" fill="#000" />
<line x1="127.6" y1="429.6" x2="241.3" y2="429.6" stroke="#222" stroke-width="1.0" />
<polygon points="127.6,429.6 142.6,427.4 142.6,431.8" fill="#000"/>
<polygon points="241.3,429.6 226.3,427.4 226.3,431.8" fill="#000"/>
<line x1="142.7" y1="462.4" x2="230" y2="462.4" stroke="#222" stroke-width="1.0" />
<polygon points="142.7,462.4 157.7,460.2 157.7,464.6" fill="#000"/>
<polygon points="230,462.4 215,460.2 215,464.6" fill="#000"/>
<text transform="translate(170.5,428.2) scale(0.6,1)" font-family="Liberation Serif" font-size="29.7" fill="#111" stroke="#fff" stroke-width="0.55" text-anchor="start">520</text>
<text transform="translate(175,461.8) scale(0.6,1)" font-family="Liberation Serif" font-size="29.7" fill="#111" stroke="#fff" stroke-width="0.55" text-anchor="start">474</text>
<line x1="62.5" y1="511.8" x2="62.5" y2="607" stroke="#222" stroke-width="1.0" />
<polygon points="62.5,511.8 60.3,526.8 64.7,526.8" fill="#000"/>
<polygon points="62.5,607 60.3,592 64.7,592" fill="#000"/>
<line x1="87.8" y1="514.3" x2="87.8" y2="604.7" stroke="#222" stroke-width="1.0" />
<polygon points="87.8,514.3 85.6,529.3 90,529.3" fill="#000"/>
<polygon points="87.8,604.7 85.6,589.7 90,589.7" fill="#000"/>
<text transform="translate(61.4,574) rotate(-90) scale(0.6,1)" font-family="Liberation Serif" font-size="29.7" fill="#111" stroke="#fff" stroke-width="0.55" text-anchor="start">420</text>
<text transform="translate(85.4,575) rotate(-90) scale(0.6,1)" font-family="Liberation Serif" font-size="29.7" fill="#111" stroke="#fff" stroke-width="0.55" text-anchor="start">494</text>
<path d="M468.8,617.6 L468.8,647.2 L499,647.2 L499,643" stroke="#000" stroke-width="1.4" fill="none" />
<path d="M474,613.4 L474,642 L509,642" stroke="#000" stroke-width="1.4" fill="none" />
<path d="M492.8,625.4 L492.8,635.8 L505,635.8" stroke="#000" stroke-width="1.2" fill="none" />
<path d="M618.4,617.6 L618.4,647.2 L588.5,647.2 L588.5,643" stroke="#000" stroke-width="1.4" fill="none" />
<path d="M613.2,614.7 L613.2,642 L580,642" stroke="#000" stroke-width="1.4" fill="none" />
<path d="M598.6,622.2 L598.6,636.3 L579.4,636.3" stroke="#000" stroke-width="1.2" fill="none" />
<line x1="603" y1="614.7" x2="618.4" y2="614.7" stroke="#000" stroke-width="1.2" />
<path d="M602.2,515.6 L618.5,515.6 L618.5,546" stroke="#000" stroke-width="1.4" fill="none" />
<path d="M605.8,520.5 L613.6,520.5 L613.6,534" stroke="#000" stroke-width="1.2" fill="none" />
<rect x="396.6" y="555" width="70.5" height="60.4" stroke="#000" stroke-width="1.5" fill="#fff" rx="6.4" />
<line x1="414.4" y1="555" x2="414.4" y2="615.4" stroke="#000" stroke-width="1.3" />
<line x1="439.5" y1="554" x2="439.5" y2="628" stroke="#000" stroke-width="0.9" />
<rect x="432.7" y="577.8" width="12.7" height="15.3" stroke="#000" stroke-width="1.3" fill="none" />
<line x1="380" y1="585.2" x2="493.7" y2="585.2" stroke="#333" stroke-width="0.9" />
<path d="M434.5,616 L439.5,621 L444.5,616" stroke="#000" stroke-width="1.2" fill="none" />
<circle cx="439.5" cy="621.3" r="2.4" stroke="#000" stroke-width="1.2" fill="#fff" />
<line x1="431" y1="621.3" x2="448" y2="621.3" stroke="#000" stroke-width="0.9" />
<path d="M467.1,600 L482.4,617 L492,623" stroke="#000" stroke-width="1.3" fill="none" />
<line x1="469.8" y1="448.6" x2="469.8" y2="546" stroke="#000" stroke-width="1.2" />
<line x1="479.6" y1="463.9" x2="479.6" y2="535.5" stroke="#000" stroke-width="0.9" />
<line x1="489.4" y1="472" x2="489.4" y2="514" stroke="#000" stroke-width="1.2" />
<circle cx="492.9" cy="448.6" r="23.3" stroke="#000" stroke-width="1.5" fill="none" />
<circle cx="492.9" cy="448.6" r="6.1" stroke="#000" stroke-width="1.3" fill="none" />
<line x1="492.9" y1="420" x2="492.9" y2="477" stroke="#000" stroke-width="0.9" />
<rect x="458.7" y="488.7" width="41.1" height="7.4" stroke="#000" stroke-width="1.4" fill="#fff" rx="1" />
<line x1="458.7" y1="491.2" x2="499.8" y2="491.2" stroke="#000" stroke-width="0.9" />
<line x1="458.7" y1="493.6" x2="499.8" y2="493.6" stroke="#000" stroke-width="0.9" />
<line x1="463" y1="486" x2="463" y2="499" stroke="#000" stroke-width="0.9" />
<line x1="496" y1="486" x2="496" y2="499" stroke="#000" stroke-width="0.9" />
<line x1="469.8" y1="488.7" x2="469.8" y2="496.1" stroke="#000" stroke-width="1" />
<line x1="489.4" y1="488.7" x2="489.4" y2="496.1" stroke="#000" stroke-width="1" />
<circle cx="544.7" cy="566.3" r="76.3" stroke="#000" stroke-width="1.6" fill="#fff" />
<circle cx="544.5" cy="566.3" r="69.8" stroke="#000" stroke-width="1.6" fill="none" />
<line x1="481" y1="566.6" x2="651" y2="566.6" stroke="#333" stroke-width="0.9" />
<circle cx="545" cy="566.4" r="18" stroke="#000" stroke-width="1.5" fill="#fff" />
<circle cx="545" cy="566.4" r="12.7" stroke="#000" stroke-width="1.3" fill="none" />
<circle cx="545" cy="566.4" r="4.7" stroke="#000" stroke-width="1.3" fill="none" />
<circle cx="545" cy="566.4" r="2.8" stroke="#000" stroke-width="1.0" fill="none" />
<rect x="541.1" y="488" width="7.2" height="60.4" stroke="#000" stroke-width="1.1" fill="#fff" />
<line x1="544.7" y1="488" x2="544.7" y2="548.4" stroke="#111" stroke-width="0.9" />
<rect x="541.1" y="584.5" width="7.2" height="68.5" stroke="#000" stroke-width="1.1" fill="#fff" />
<line x1="544.7" y1="584.5" x2="544.7" y2="653" stroke="#111" stroke-width="0.9" />
<rect x="538.9" y="518.8" width="11.6" height="26.7" rx="1.8" fill="#000"/>
<rect x="541.3" y="521.8" width="6.8" height="20.7" fill="#fff"/>
<line x1="544.7" y1="521.8" x2="544.7" y2="542.5" stroke="#333" stroke-width="0.8" />
<rect x="538.9" y="592.3" width="11.6" height="32.1" rx="1.8" fill="#000"/>
<rect x="541.3" y="595.3" width="6.8" height="26.1" fill="#fff"/>
<line x1="544.7" y1="595.3" x2="544.7" y2="621.4" stroke="#333" stroke-width="0.8" />
<line x1="544.7" y1="470" x2="544.7" y2="660" stroke="#000" stroke-width="0.9" />
<rect x="536" y="491.2" width="5" height="4.6" fill="#000"/>
<rect x="536" y="513.7" width="5" height="4.6" fill="#000"/>
<rect x="536" y="545.7" width="5" height="4.6" fill="#000"/>
<rect x="548.3" y="586.7" width="4.7" height="4.6" fill="#000"/>
<rect x="548.3" y="622.7" width="4.7" height="4.6" fill="#000"/>
<rect x="548.3" y="645" width="4.7" height="4.6" fill="#000"/>
<rect x="538.9" y="515.3" width="11.6" height="2.4" stroke="#000" stroke-width="1.1" fill="#777" />
<rect x="538.9" y="546.3" width="11.6" height="2.4" stroke="#000" stroke-width="1.1" fill="#777" />
<rect x="538.9" y="587.8" width="11.6" height="2.4" stroke="#000" stroke-width="1.1" fill="#777" />
<rect x="538.9" y="623.8" width="11.6" height="2.4" stroke="#000" stroke-width="1.1" fill="#777" />
<rect x="538.9" y="646.1" width="11.6" height="2.4" stroke="#000" stroke-width="1.1" fill="#777" />
<rect x="494.8" y="563" width="32.2" height="8" stroke="#000" stroke-width="1.1" fill="#fff" />
<line x1="494.8" y1="567" x2="527" y2="567" stroke="#111" stroke-width="0.9" />
<rect x="508" y="561.4" width="24" height="11.2" rx="1.8" fill="#000"/>
<rect x="511" y="563.8" width="18" height="6.4" fill="#fff"/>
<line x1="511" y1="567" x2="529" y2="567" stroke="#333" stroke-width="0.8" />
<rect x="494.8" y="562.5" width="8.2" height="9" stroke="#000" stroke-width="1.3" fill="#fff" />
<rect x="505" y="568" width="4" height="4.5" fill="#000"/>
<rect x="530.5" y="568" width="4" height="4.5" fill="#000"/>
<circle cx="545" cy="566.4" r="4.7" stroke="#000" stroke-width="1.3" fill="#fff" />
<circle cx="545" cy="566.4" r="2.8" stroke="#000" stroke-width="1.0" fill="none" />
<rect x="528.6" y="481.7" width="51.4" height="6" stroke="#000" stroke-width="1.2" fill="#fff" />
<path d="M514.8,477.5 L511.5,478.5 L510.9,484.7 L511.5,491.5 L514.8,492.6 Z" stroke="#000" stroke-width="1.4" fill="#fff" />
<line x1="507" y1="484.7" x2="516" y2="484.7" stroke="#000" stroke-width="0.9" />
<rect x="516.2" y="480.1" width="12.4" height="9.8" stroke="#000" stroke-width="1.4" fill="#fff" />
<line x1="522.4" y1="480" x2="522.4" y2="490" stroke="#000" stroke-width="0.9" />
<line x1="516" y1="484.7" x2="529" y2="484.7" stroke="#000" stroke-width="0.8" />
<rect x="520.5" y="472.5" width="5.5" height="6" fill="#000"/>
<rect x="521.5" y="478" width="3.5" height="2.1" fill="#000"/>
<rect x="531.4" y="479" width="3.6" height="11.5" stroke="#000" stroke-width="1.1" fill="#fff" />
<rect x="530.8" y="476" width="4.8" height="3.5" fill="#000"/>
<rect x="553.7" y="479" width="3.6" height="11.5" stroke="#000" stroke-width="1.1" fill="#fff" />
<rect x="553.1" y="476" width="4.8" height="3.5" fill="#000"/>
<rect x="576" y="479" width="3.6" height="11.5" stroke="#000" stroke-width="1.1" fill="#fff" />
<rect x="575.4" y="476" width="4.8" height="3.5" fill="#000"/>
<rect x="557.5" y="480" width="14.4" height="10" stroke="#000" stroke-width="1.4" fill="#fff" />
<line x1="564.7" y1="480" x2="564.7" y2="490" stroke="#000" stroke-width="0.9" />
<line x1="557.5" y1="484.7" x2="572" y2="484.7" stroke="#000" stroke-width="0.8" />
<rect x="560" y="474.8" width="13.2" height="3.3" stroke="#000" stroke-width="1.3" fill="#fff" rx="1.6" />
<line x1="566.6" y1="472" x2="566.6" y2="480" stroke="#000" stroke-width="0.9" />
<rect x="579.8" y="482" width="5.9" height="5.6" stroke="#000" stroke-width="1.2" fill="#fff" />
<line x1="579" y1="484.7" x2="588" y2="484.7" stroke="#000" stroke-width="0.8" />
<circle cx="573.6" cy="504.8" r="7.9" stroke="#000" stroke-width="0" fill="#000" />
<rect x="571.4" y="502.8" width="2" height="1.6" fill="#eee"/>
<rect x="573.4" y="502.2" width="1.8" height="3.8" fill="#ccc"/>
<rect x="571" y="505.6" width="1.6" height="1.8" fill="#9ad"/>
<rect x="571.4" y="507.8" width="3.6" height="0.8" fill="#ddd"/>
<rect x="549.6" y="500.4" width="13.1" height="7.9" stroke="#000" stroke-width="1.3" fill="#fff" />
<line x1="556" y1="500.4" x2="556" y2="508.3" stroke="#000" stroke-width="0.9" />
<rect x="552" y="496" width="5" height="4.4" fill="#000"/>
<line x1="562.7" y1="504.5" x2="566" y2="504.5" stroke="#000" stroke-width="2" />
<rect x="510" y="653" width="63" height="6.2" stroke="#000" stroke-width="1.2" fill="#fff" />
<rect x="503.6" y="653" width="6.9" height="6.5" stroke="#000" stroke-width="1.3" fill="#fff" />
<rect x="509" y="650.5" width="3.6" height="11" stroke="#000" stroke-width="1.1" fill="#fff" />
<rect x="508.4" y="661" width="4.8" height="3.5" fill="#000"/>
<rect x="531.5" y="650.5" width="3.6" height="11" stroke="#000" stroke-width="1.1" fill="#fff" />
<rect x="530.9" y="661" width="4.8" height="3.5" fill="#000"/>
<rect x="553.9" y="650.5" width="3.6" height="11" stroke="#000" stroke-width="1.1" fill="#fff" />
<rect x="553.3" y="661" width="4.8" height="3.5" fill="#000"/>
<rect x="516.5" y="651" width="12" height="10" stroke="#000" stroke-width="1.4" fill="#fff" />
<line x1="522.5" y1="651" x2="522.5" y2="661" stroke="#000" stroke-width="0.9" />
<path d="M516.5,663.2 Q522.5,668 528.5,663.2 L528.5,662.3 L516.5,662.3 Z" stroke="#000" stroke-width="1.2" fill="#fff" />
<line x1="522.5" y1="661" x2="522.5" y2="670" stroke="#000" stroke-width="0.9" />
<rect x="560.6" y="651" width="12" height="10" stroke="#000" stroke-width="1.4" fill="#fff" />
<line x1="566.6" y1="651" x2="566.6" y2="661" stroke="#000" stroke-width="0.9" />
<path d="M575,649.5 L578.5,650.5 L579.5,656 L578.5,661.5 L575,662.5 Z" stroke="#000" stroke-width="1.3" fill="#fff" />
<line x1="572" y1="656.1" x2="582" y2="656.1" stroke="#000" stroke-width="0.8" />
<rect x="565" y="661" width="4.5" height="6" fill="#000"/>
<circle cx="515.7" cy="636.1" r="8.3" stroke="#000" stroke-width="0" fill="#000" />
<rect x="513.5" y="634.1" width="2" height="1.6" fill="#eee"/>
<rect x="515.5" y="633.5" width="1.8" height="3.8" fill="#ccc"/>
<rect x="513.1" y="636.9" width="1.6" height="1.8" fill="#9ad"/>
<rect x="513.5" y="639.1" width="3.6" height="0.8" fill="#ddd"/>
<rect x="524" y="631.5" width="14" height="9" stroke="#000" stroke-width="1.3" fill="#fff" />
<line x1="531" y1="631.5" x2="531" y2="640.5" stroke="#000" stroke-width="0.9" />
<rect x="534" y="629" width="3.5" height="14" fill="#000"/>
<line x1="617" y1="566.6" x2="651" y2="566.6" stroke="#333" stroke-width="0.9" />
<rect x="620.2" y="562.4" width="27.4" height="8.9" stroke="#000" stroke-width="1.3" fill="#fff" />
<line x1="620.2" y1="564.8" x2="641.6" y2="564.8" stroke="#555" stroke-width="0.7" />
<line x1="620.2" y1="569" x2="641.6" y2="569" stroke="#555" stroke-width="0.7" />
<rect x="641.6" y="561.2" width="6" height="10.8" stroke="#000" stroke-width="1.4" fill="#fff" />
<line x1="643.6" y1="561.2" x2="643.6" y2="572" stroke="#000" stroke-width="0.8" />
<line x1="645.6" y1="561.2" x2="645.6" y2="572" stroke="#000" stroke-width="0.8" />
<rect x="623" y="555.9" width="11" height="6.5" fill="#000"/>
<rect x="633" y="555.9" width="11" height="6.5" fill="#000"/>
<rect x="625" y="557.5" width="7" height="3.5" fill="#fff"/><rect x="635" y="557.5" width="7" height="3.5" fill="#fff"/>
<rect x="626.2" y="541" width="4.1" height="14.9" stroke="#000" stroke-width="1.2" fill="#888" />
<rect x="635.7" y="541" width="4.7" height="14.9" stroke="#000" stroke-width="1.2" fill="#888" />
<rect x="621.4" y="525.6" width="20.8" height="15.4" fill="#000"/>
<circle cx="628.5" cy="532.7" r="3.3" stroke="#000" stroke-width="0.9" fill="#fff" />
<circle cx="638.3" cy="532.7" r="3.3" stroke="#000" stroke-width="0.9" fill="#fff" />
<rect x="621.4" y="518.4" width="26.2" height="7.2" fill="#000"/>
<rect x="623" y="520.2" width="23" height="1.4" fill="#fff"/><rect x="623" y="522.6" width="23" height="1.4" fill="#fff"/>
<rect x="624.4" y="514.9" width="7.7" height="3.5" fill="#000"/>
<rect x="634.5" y="514.9" width="7.7" height="3.5" fill="#000"/>
<rect x="626" y="516" width="4.5" height="1.3" fill="#fff"/><rect x="636" y="516" width="4.5" height="1.3" fill="#fff"/>
<rect x="647.6" y="519.6" width="8.9" height="4.8" fill="#000"/>
<line x1="649" y1="520.5" x2="649" y2="523.5" stroke="#fff" stroke-width="0.6" />
<line x1="652" y1="520.5" x2="652" y2="523.5" stroke="#fff" stroke-width="0.6" />
<text transform="translate(658.5,526.8) scale(1.35,1)" font-family="Liberation Serif" font-size="22" fill="#333" text-anchor="start">f</text>
<rect x="495.2" y="38.8" width="45.8" height="6.2" stroke="#000" stroke-width="1.1" fill="#fff" />
<line x1="495.2" y1="41.9" x2="541" y2="41.9" stroke="#111" stroke-width="0.9" />
<rect x="509.9" y="36.1" width="20.4" height="11.6" rx="1.8" fill="#000"/>
<rect x="512.9" y="38.5" width="14.4" height="6.8" fill="#fff"/>
<line x1="512.9" y1="41.9" x2="527.3" y2="41.9" stroke="#333" stroke-width="0.8" />
<rect x="503" y="36" width="4" height="13.5" fill="#000"/>
<rect x="533.3" y="36" width="4.2" height="13.5" fill="#000"/>
<line x1="541" y1="41.9" x2="553" y2="41.9" stroke="#000" stroke-width="0.8" />
<rect x="541.3" y="29.6" width="7.2" height="32.4" stroke="#000" stroke-width="1.1" fill="#fff" />
<line x1="544.9" y1="29.6" x2="544.9" y2="62" stroke="#111" stroke-width="0.9" />
<rect x="539" y="29.6" width="13.8" height="3.2" fill="#000"/>
<rect x="538" y="50.5" width="4.5" height="5" fill="#000"/>
<rect x="547.8" y="50.5" width="4.7" height="5" fill="#000"/>
<line x1="544.9" y1="14" x2="544.9" y2="100" stroke="#000" stroke-width="0.9" />
<path d="M514.8,62.2 L511.5,63.4 L510.9,69.4 L511.5,75.4 L514.8,76.8 Z" stroke="#000" stroke-width="1.4" fill="#fff" />
<line x1="507" y1="69.4" x2="516" y2="69.4" stroke="#000" stroke-width="0.9" />
<rect x="527" y="66.4" width="53" height="6" stroke="#000" stroke-width="1.2" fill="#fff" />
<rect x="516.2" y="64.8" width="11.1" height="9.6" stroke="#000" stroke-width="1.4" fill="#fff" />
<line x1="521.7" y1="64.8" x2="521.7" y2="74.4" stroke="#000" stroke-width="0.9" />
<line x1="516" y1="69.4" x2="528" y2="69.4" stroke="#000" stroke-width="0.8" />
<rect x="531.4" y="63.4" width="3.6" height="12.5" stroke="#000" stroke-width="1.1" fill="#fff" />
<rect x="530.8" y="60.4" width="4.8" height="3.5" fill="#000"/>
<rect x="553.7" y="63.4" width="3.6" height="12.5" stroke="#000" stroke-width="1.1" fill="#fff" />
<rect x="553.1" y="60.4" width="4.8" height="3.5" fill="#000"/>
<rect x="576" y="63.4" width="3.6" height="12.5" stroke="#000" stroke-width="1.1" fill="#fff" />
<rect x="575.4" y="60.4" width="4.8" height="3.5" fill="#000"/>
<rect x="560.8" y="64.8" width="12.4" height="9.6" stroke="#000" stroke-width="1.4" fill="#fff" />
<line x1="567" y1="64.8" x2="567" y2="74.4" stroke="#000" stroke-width="0.9" />
<line x1="560.8" y1="69.4" x2="573.2" y2="69.4" stroke="#000" stroke-width="0.8" />
<rect x="560" y="58.4" width="15" height="3.2" stroke="#000" stroke-width="1.3" fill="#fff" rx="1.6" />
<line x1="567" y1="56.4" x2="567" y2="64.8" stroke="#000" stroke-width="0.9" />
<rect x="579.8" y="66.5" width="5.9" height="5.8" stroke="#000" stroke-width="1.2" fill="#fff" />
<line x1="579" y1="69.4" x2="591.6" y2="69.4" stroke="#000" stroke-width="0.8" />
<rect x="539.1" y="62.9" width="11.8" height="17" stroke="#000" stroke-width="1.5" fill="#fff" />
<line x1="539.1" y1="75.4" x2="550.9" y2="75.4" stroke="#000" stroke-width="1.2" />
<line x1="542.5" y1="62.9" x2="542.5" y2="79.9" stroke="#000" stroke-width="0.8" />
<line x1="547.5" y1="62.9" x2="547.5" y2="79.9" stroke="#000" stroke-width="0.8" />
<rect x="537" y="60.4" width="4" height="3.5" fill="#000"/>
<rect x="549" y="60.4" width="4" height="3.5" fill="#000"/>
<rect x="538.5" y="78.4" width="13" height="2" fill="#000"/>
<path d="M514.8,78.2 L511.5,79.4 L510.9,85.4 L511.5,91.4 L514.8,92.8 Z" stroke="#000" stroke-width="1.4" fill="#fff" />
<line x1="507" y1="85.4" x2="516" y2="85.4" stroke="#000" stroke-width="0.9" />
<rect x="527" y="82.4" width="53" height="6" stroke="#000" stroke-width="1.2" fill="#fff" />
<rect x="516.2" y="80.8" width="11.1" height="9.6" stroke="#000" stroke-width="1.4" fill="#fff" />
<line x1="521.7" y1="80.8" x2="521.7" y2="90.4" stroke="#000" stroke-width="0.9" />
<line x1="516" y1="85.4" x2="528" y2="85.4" stroke="#000" stroke-width="0.8" />
<rect x="531.4" y="79.4" width="3.6" height="12.5" stroke="#000" stroke-width="1.1" fill="#fff" />
<rect x="530.8" y="76.4" width="4.8" height="3.5" fill="#000"/>
<rect x="553.7" y="79.4" width="3.6" height="12.5" stroke="#000" stroke-width="1.1" fill="#fff" />
<rect x="553.1" y="76.4" width="4.8" height="3.5" fill="#000"/>
<rect x="576" y="79.4" width="3.6" height="12.5" stroke="#000" stroke-width="1.1" fill="#fff" />
<rect x="575.4" y="76.4" width="4.8" height="3.5" fill="#000"/>
<rect x="560.8" y="80.8" width="12.4" height="9.6" stroke="#000" stroke-width="1.4" fill="#fff" />
<line x1="567" y1="80.8" x2="567" y2="90.4" stroke="#000" stroke-width="0.9" />
<line x1="560.8" y1="85.4" x2="573.2" y2="85.4" stroke="#000" stroke-width="0.8" />
<rect x="560" y="74.4" width="15" height="3.2" stroke="#000" stroke-width="1.3" fill="#fff" rx="1.6" />
<line x1="567" y1="72.4" x2="567" y2="80.8" stroke="#000" stroke-width="0.9" />
<rect x="579.8" y="82.5" width="5.9" height="5.8" stroke="#000" stroke-width="1.2" fill="#fff" />
<line x1="579" y1="85.4" x2="591.6" y2="85.4" stroke="#000" stroke-width="0.8" />
<rect x="535.2" y="79.9" width="21.6" height="11" rx="1.8" fill="#000"/>
<rect x="538.2" y="82.3" width="15.6" height="6.2" fill="#fff"/>
<line x1="538.2" y1="85.4" x2="553.8" y2="85.4" stroke="#333" stroke-width="0.8" />
<rect x="519.5" y="57.5" width="5" height="5.5" fill="#000"/>
<rect x="520" y="74.5" width="4" height="5.5" fill="#000"/>
<rect x="526.5" y="90.4" width="37.2" height="6.7" stroke="#000" stroke-width="1.3" fill="#fff" />
<line x1="544.9" y1="90" x2="544.9" y2="100" stroke="#000" stroke-width="0.9" /></svg></body></html>
